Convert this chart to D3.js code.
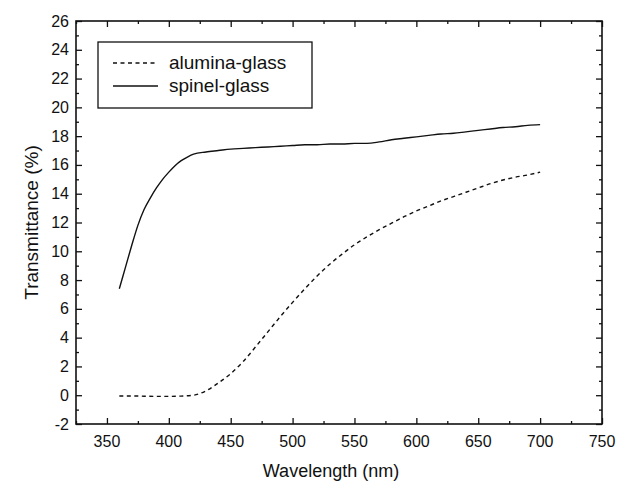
<!DOCTYPE html>
<html>
<head>
<meta charset="utf-8">
<script src="https://cdn.jsdelivr.net/npm/d3@7"></script>
<style>
  body { margin: 0; background: #fff; }
  text { font-family: "Liberation Sans", Arial, sans-serif; fill: #111; }
</style>
</head>
<body>
<div class="chart"></div>
<script>
// transmittance curves
let wavelength = [360, 370, 380, 390, 400, 410, 420, 430, 440, 450, 460, 470, 480, 490, 500,
  510, 520, 530, 540, 550, 560, 570, 580, 590, 600, 610, 620, 630, 640, 650, 660, 670, 680, 690, 700];
let alumina = [-0.05, -0.05, -0.07, -0.08, -0.08, -0.06, 0.0, 0.3, 0.85, 1.5, 2.33, 3.35, 4.4, 5.45, 6.45,
  7.4, 8.3, 9.1, 9.8, 10.45, 11.0, 11.5, 11.95, 12.4, 12.8, 13.15, 13.5, 13.8, 14.1, 14.4, 14.7, 14.95, 15.15, 15.3, 15.5];
let spinelX = [360, 365, 370, 375, 380, 385, 390, 395, 400, 405, 410, 415, 420, 430, 440, 450, 460, 470, 480,
  490, 500, 510, 520, 530, 540, 550, 560, 570, 580, 590, 600, 610, 620, 630, 640, 650, 660, 670, 680, 690, 700];
let spinel = [7.4, 8.9, 10.4, 11.8, 12.9, 13.7, 14.4, 15.0, 15.5, 15.95, 16.3, 16.55, 16.75, 16.9, 17.0, 17.1, 17.15, 17.2, 17.25,
  17.3, 17.35, 17.4, 17.4, 17.45, 17.45, 17.5, 17.5, 17.6, 17.75, 17.85, 17.95, 18.05, 18.15, 18.2, 18.3, 18.4, 18.5, 18.6, 18.65, 18.75, 18.8];
let xTicks = [350, 400, 450, 500, 550, 600, 650, 700, 750];
let yTicks = [-2, 0, 2, 4, 6, 8, 10, 12, 14, 16, 18, 20, 22, 24, 26];
let legendNames = ["alumina-glass", "spinel-glass"];

let margin = { top: 21, right: 25, bottom: 58, left: 76 };
let width = 627 - margin.left - margin.right;
let height = 482 - margin.top - margin.bottom;

let svg = d3
  .select(".chart")
  .append("svg")
  .attr("width", 627)
  .attr("height", 482)
  .append("g")
  .attr("transform", `translate(${margin.left}, ${margin.top})`);

let x = d3.scaleLinear().domain([325, 750]).range([0, width]);
let y = d3.scaleLinear().domain([-2, 26]).range([height, 0]);

let xMinor = d3.range(325, 751, 25).filter((v) => !xTicks.includes(v));
let yMinor = d3.range(-1, 26, 2);

// ticks pointing inward on all four sides
function ticks(axis, vals, size) {
  return axis.tickValues(vals).tickSize(size).tickFormat("");
}
let tickGroups = [
  [d3.axisBottom(x), xTicks, -6, `translate(0, ${height})`],
  [d3.axisBottom(x), xMinor, -3, `translate(0, ${height})`],
  [d3.axisTop(x), xTicks, -6, "translate(0, 0)"],
  [d3.axisTop(x), xMinor, -3, "translate(0, 0)"],
  [d3.axisLeft(y), yTicks, -6, "translate(0, 0)"],
  [d3.axisLeft(y), yMinor, -3, "translate(0, 0)"],
  [d3.axisRight(y), yTicks, -6, `translate(${width}, 0)`],
  [d3.axisRight(y), yMinor, -3, `translate(${width}, 0)`],
];
tickGroups.forEach((t) => {
  let g = svg.append("g").attr("transform", t[3]).call(ticks(t[0], t[1], t[2]));
  g.select(".domain").remove();
  g.selectAll("line").attr("stroke", "#111").attr("stroke-width", 1.3);
});

// tick labels
svg
  .selectAll(".xlab")
  .data(xTicks)
  .enter()
  .append("text")
  .attr("x", (d) => x(d))
  .attr("y", height + 23)
  .attr("text-anchor", "middle")
  .style("font-size", "16px")
  .text((d) => d);

svg
  .selectAll(".ylab")
  .data(yTicks)
  .enter()
  .append("text")
  .attr("x", -7)
  .attr("y", (d) => y(d) + 5.5)
  .attr("text-anchor", "end")
  .style("font-size", "16px")
  .text((d) => d);

// frame
svg
  .append("rect")
  .attr("width", width)
  .attr("height", height)
  .attr("fill", "none")
  .attr("stroke", "#111")
  .attr("stroke-width", 1.6);

// curves
let line = d3
  .line()
  .x((d) => x(d[0]))
  .y((d) => y(d[1]))
  .curve(d3.curveMonotoneX);

svg
  .append("path")
  .datum(d3.zip(wavelength, alumina))
  .attr("d", line)
  .attr("fill", "none")
  .attr("stroke", "#111")
  .attr("stroke-width", 1.4)
  .attr("stroke-dasharray", "4,3.5");

svg
  .append("path")
  .datum(d3.zip(spinelX, spinel))
  .attr("d", line)
  .attr("fill", "none")
  .attr("stroke", "#111")
  .attr("stroke-width", 1.4);

// legend
let legend = svg.append("g").attr("transform", "translate(22, 21)");
legend
  .append("rect")
  .attr("width", 214)
  .attr("height", 66)
  .attr("fill", "#fff")
  .attr("stroke", "#111")
  .attr("stroke-width", 1.3);

legendNames.forEach((name, i) => {
  let ly = 21 + i * 23;
  legend
    .append("line")
    .attr("x1", 15)
    .attr("x2", 60)
    .attr("y1", ly)
    .attr("y2", ly)
    .attr("stroke", "#111")
    .attr("stroke-width", 1.3)
    .attr("stroke-dasharray", i === 0 ? "4,3.5" : null);
  legend
    .append("text")
    .attr("x", 71)
    .attr("y", ly + 6)
    .style("font-size", "19px")
    .text(name);
});

// axis titles
svg
  .append("text")
  .attr("x", width / 2 - 8)
  .attr("y", height + 53)
  .attr("text-anchor", "middle")
  .style("font-size", "18px")
  .text("Wavelength (nm)");

svg
  .append("text")
  .attr("transform", `translate(-38, ${height / 2}) rotate(-90)`)
  .attr("text-anchor", "middle")
  .style("font-size", "19px")
  .text("Transmittance (%)");
</script>
</body>
</html>
